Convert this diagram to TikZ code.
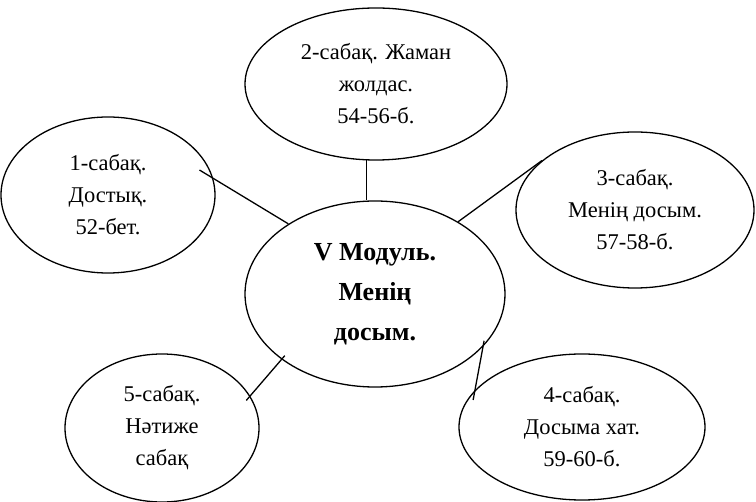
\documentclass[tikz,border=0pt]{standalone}
\usepackage{fontspec}
\setmainfont{Liberation Serif}
\usepackage{tikz}
\usetikzlibrary{shapes.geometric}

\begin{document}
\begin{tikzpicture}[x=1pt,y=-1pt,line width=1.3pt,
main/.style = {draw, ellipse, inner sep=0pt, align=center, font=\fontsize{22.5}{32}\selectfont},
big/.style = {main, font=\fontsize{26}{40}\selectfont\bfseries}]
\useasboundingbox (0,0) rectangle (756,502);
\node[big, minimum width=260pt, minimum height=186pt] (0) at (375,294) {V Модуль.\\Менің\\досым.};
\node[main, minimum width=214pt, minimum height=156pt] (1) at (108,195) {1-сабақ.\\Достық.\\52-бет.};
\node[main, minimum width=262pt, minimum height=152pt] (2) at (376,84) {2-сабақ. Жаман\\жолдас.\\54-56-б.};
\node[main, minimum width=238pt, minimum height=156pt] (3) at (635,210) {3-сабақ.\\Менің досым.\\57-58-б.};
\node[main, minimum width=246pt, minimum height=146pt] (4) at (582,427) {4-сабақ.\\Досыма хат.\\59-60-б.};
\node[main, minimum width=194pt, minimum height=148pt] (5) at (162,428) {5-сабақ.\\Нәтиже\\сабақ};
\draw[shorten <=-16pt] (1.9) -- (0.141);
\draw (2.263) -- (2.263 |- 0.north);
\draw (3.152) -- (0.41);
\draw[shorten <=-6pt, shorten >=-10pt] (0.334) -- (4.161);
\draw[shorten <=-6pt, shorten >=-5pt] (5.20) -- (0.215);
\end{tikzpicture}
\end{document}
